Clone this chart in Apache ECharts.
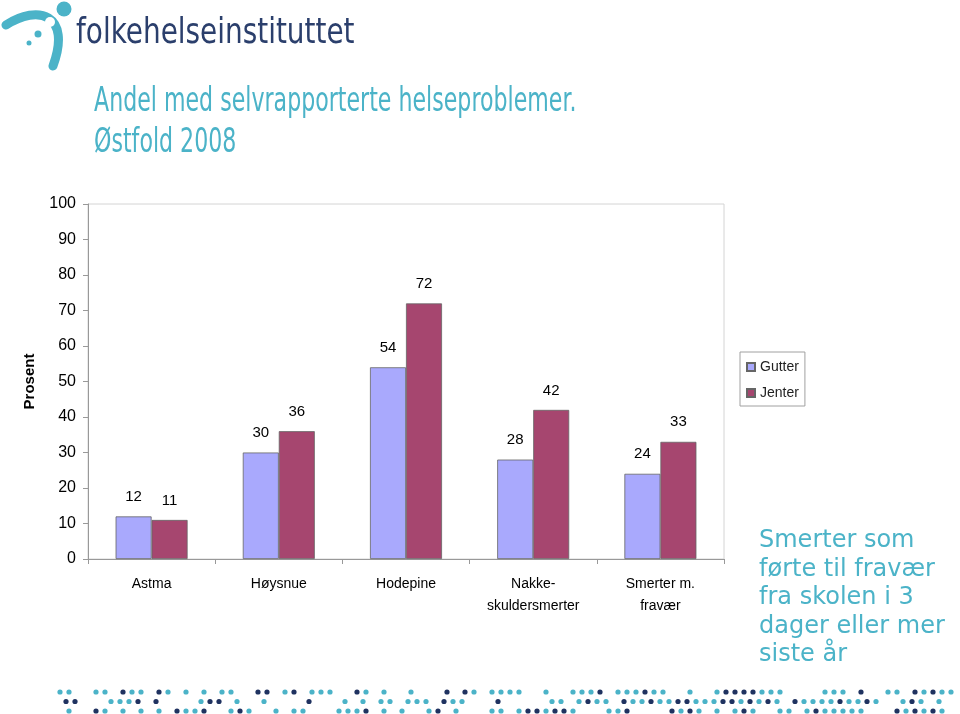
<!DOCTYPE html>
<html>
<head>
<meta charset="utf-8">
<script src="https://cdn.jsdelivr.net/npm/echarts@6/dist/echarts.min.js"></script>
<style>
html,body{margin:0;padding:0;background:#fff;}
#c{width:960px;height:714px;}
</style>
</head>
<body>
<div id="c"></div>
<script>
var categories = ['Astma', 'Høysnue', 'Hodepine', 'Nakke-\nskuldersmerter', 'Smerter m.\nfravær'];
var gutter = [12, 30, 54, 28, 24];
var jenter = [11, 36, 72, 42, 33];
var seriesNames = ['Gutter', 'Jenter'];
var titleLines = ['Andel med selvrapporterte helseproblemer.', 'Østfold 2008'];
var noteLines = ['Smerter som', 'førte til fravær', 'fra skolen i 3', 'dager eller mer', 'siste år'];

var teal = '#4bb3c8';
var navy = '#1f3260';

// decorative dotted band (not data)
var dots = [];
(function(){
  var seed = 7;
  function rnd(){ seed = (seed * 9301 + 49297) % 233280; return seed / 233280; }
  for (var r = 0; r < 3; r++) {
    for (var x = 60; x <= 955; x += 9) {
      var v = rnd();
      if (v < 0.38) continue;
      dots.push({type:'circle', shape:{cx:x + (r===1? -3:0), cy:692 + r*9.5, r:2.6},
        style:{fill: v > 0.78 ? navy : teal}, silent:true});
    }
  }
})();

var chart = echarts.init(document.getElementById('c'));
chart.setOption({
  animation: false,
  backgroundColor: '#fff',
  textStyle: {fontFamily: 'Liberation Sans, Arial, sans-serif'},
  grid: {left: 88, right: 236, top: 204, bottom: 155, show: true, borderColor: '#d4d4d4', borderWidth: 1},
  legend: {
    orient: 'vertical', left: 740, top: 352,
    itemWidth: 8, itemHeight: 8, itemGap: 12,
    icon: 'rect',
    textStyle: {fontSize: 14, color: '#222', fontFamily: 'Liberation Sans, Arial, sans-serif'},
    padding: [8, 6, 6, 6],
    borderColor: '#a0a0a0', borderWidth: 1,
    data: seriesNames
  },
  xAxis: {
    type: 'category', data: categories,
    axisLine: {lineStyle: {color: '#999'}},
    axisTick: {show: true, length: 5, lineStyle: {color: '#999'}},
    axisLabel: {color: '#000', fontSize: 14, margin: 14, lineHeight: 22, interval: 0}
  },
  yAxis: {
    type: 'value', min: 0, max: 100, interval: 10,
    name: 'Prosent', nameLocation: 'middle', nameGap: 51, nameRotate: 90,
    nameTextStyle: {fontSize: 15, fontWeight: 'bold', color: '#000'},
    axisLine: {show: true, lineStyle: {color: '#999'}},
    axisTick: {show: true, length: 5, lineStyle: {color: '#999'}},
    axisLabel: {color: '#000', fontSize: 16, margin: 12},
    splitLine: {show: false}
  },
  series: [
    {name: seriesNames[0], type: 'bar', data: gutter, barWidth: 36, barGap: '0%',
     itemStyle: {color: '#a9a9fd', borderColor: '#666', borderWidth: 0.8},
     label: {show: true, position: 'top', distance: 12, color: '#000', fontSize: 15}},
    {name: seriesNames[1], type: 'bar', data: jenter, barWidth: 36, barGap: '0%',
     itemStyle: {color: '#a6466f', borderColor: '#666', borderWidth: 0.8},
     label: {show: true, position: 'top', distance: 12, color: '#000', fontSize: 15}}
  ],
  graphic: [
    // logo swoosh
    {type: 'bezierCurve', silent: true,
     shape: {x1: 6, y1: 25, cpx1: 38, cpy1: 4, cpx2: 72, cpy2: 14, x2: 53, y2: 66},
     style: {stroke: teal, lineWidth: 9, fill: null, lineCap: 'round'}},
    {type: 'circle', shape: {cx: 64, cy: 9, r: 7.5}, style: {fill: teal}, silent: true},
    {type: 'circle', shape: {cx: 50, cy: 22, r: 5}, style: {fill: '#fff'}, silent: true},
    {type: 'circle', shape: {cx: 38, cy: 34, r: 3.5}, style: {fill: teal}, silent: true},
    {type: 'circle', shape: {cx: 29, cy: 43, r: 2.5}, style: {fill: teal}, silent: true},
    {type: 'text', x: 76, y: 16, scaleX: 0.775, silent: true,
     style: {text: 'folkehelseinstituttet', fill: '#2b3f6c', fontSize: 36, verticalAlign: 'top',
             fontFamily: 'DejaVu Sans, sans-serif'}},
    // title
    {type: 'text', x: 94, y: 82, scaleX: 0.67, silent: true,
     style: {text: titleLines.join('\n'), fill: teal, fontSize: 33, lineHeight: 41, verticalAlign: 'top',
             fontFamily: 'DejaVu Sans, sans-serif'}},
    // note
    {type: 'text', x: 759, y: 527, silent: true,
     style: {text: noteLines.join('\n'), fill: teal, fontSize: 24, lineHeight: 28.5, verticalAlign: 'top',
             fontFamily: 'DejaVu Sans, sans-serif'}}
  ].concat(dots)
});
</script>
</body>
</html>
